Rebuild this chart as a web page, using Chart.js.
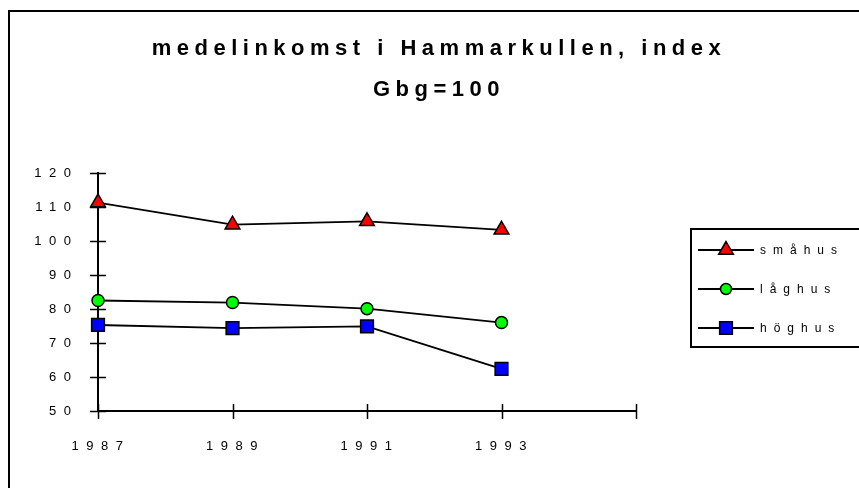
<!DOCTYPE html>
<html>
<head>
<meta charset="utf-8">
<title>medelinkomst i Hammarkullen</title>
<script src="https://cdn.jsdelivr.net/npm/chart.js@4.4.0/dist/chart.umd.min.js"></script>
<style>
    html, body { margin: 0; padding: 0; background: #fff; overflow: hidden; }
    #wrap { position: relative; width: 859px; height: 488px; }
    #frame { position: absolute; left: 8px; top: 10px; width: 1000px; height: 700px; border: 2px solid #000; box-sizing: border-box; }
    #myChart { position: absolute; left: 0; top: 0; }
</style>
</head>
<body>
<div id="wrap">
    <div id="frame"></div>
    <canvas id="myChart" width="859" height="488"></canvas>
</div>
<script>
// data
const years = ['1987', '1989', '1991', '1993', ''];
const seriesNames = ['småhus', 'låghus', 'höghus'];
const smahus = [111.3, 104.8, 105.8, 103.3];
const laghus = [82.5, 81.9, 80.1, 76.0];
const hoghus = [75.3, 74.4, 74.9, 62.4];
const yMin = 50;
const yMax = 120;
const yStep = 10;
const titleLines = ['medelinkomst i Hammarkullen, index', 'Gbg=100'];

const FONT = '"Liberation Sans", Arial, Helvetica, sans-serif';

// wide letter spacing like the original print
const spacing = {
    id: 'spacing',
    beforeUpdate(chart) { chart.ctx.letterSpacing = '7.5px'; },
    beforeDraw(chart) {
        chart.ctx.letterSpacing = '7.5px';
        const tb = chart.titleBlock;
        if (tb && !tb._spaced) {
            const orig = tb.draw.bind(tb);
            tb.draw = function () {
                const c = chart.ctx;
                const prev = c.letterSpacing;
                c.letterSpacing = '5.5px';
                orig();
                c.letterSpacing = prev;
            };
            tb._spaced = true;
        }
    }
};

// tick marks that cross the axes
const crossTicks = {
    id: 'crossTicks',
    beforeDatasetsDraw(chart) {
        const ctx = chart.ctx;
        const xs = chart.scales.x;
        const ys = chart.scales.y;
        ctx.save();
        ctx.strokeStyle = '#000';
        ctx.lineWidth = 1.5;
        ctx.beginPath();
        ys.ticks.forEach((t) => {
            const y = Math.round(ys.getPixelForValue(t.value)) + 0.5;
            ctx.moveTo(xs.left - 8, y);
            ctx.lineTo(xs.left + 8, y);
        });
        years.forEach((_, i) => {
            const x = Math.round(xs.getPixelForTick(i)) + 0.5;
            ctx.moveTo(x, ys.bottom - 7);
            ctx.lineTo(x, ys.bottom + 8);
        });
        ctx.stroke();
        ctx.restore();
    }
};

// boxed legend with line through the marker
const legendBox = {
    id: 'legendBox',
    afterDraw(chart) {
        const ctx = chart.ctx;
        const left = 691, top = 229, height = 118;
        ctx.save();
        ctx.strokeStyle = '#000';
        ctx.lineWidth = 2;
        ctx.strokeRect(left, top, 400, height);
        ctx.font = '12px ' + FONT;
        ctx.letterSpacing = '7px';
        ctx.textBaseline = 'middle';
        ctx.textAlign = 'left';
        chart.data.datasets.forEach((ds, i) => {
            const y = 250 + i * 39;
            ctx.strokeStyle = '#000';
            ctx.lineWidth = 1.8;
            ctx.beginPath();
            ctx.moveTo(left + 7, y);
            ctx.lineTo(left + 63, y);
            ctx.stroke();
            ctx.fillStyle = ds.pointBackgroundColor;
            ctx.strokeStyle = '#000';
            ctx.lineWidth = 1.5;
            Chart.helpers.drawPoint(ctx, {
                pointStyle: ds.pointStyle,
                radius: ds.pointStyle === 'circle' ? 5.5 : ds.pointRadius,
                borderWidth: 1.5
            }, left + 35, y);
            ctx.fillStyle = '#000';
            ctx.fillText(ds.label, left + 69, y + 1);
        });
        ctx.restore();
    }
};

const ctx = document.getElementById('myChart').getContext('2d');
const myChart = new Chart(ctx, {
    type: 'line',
    data: {
        labels: years,
        datasets: [{
            label: seriesNames[0],
            data: smahus,
            borderColor: '#000',
            borderWidth: 1.8,
            pointStyle: 'triangle',
            pointRadius: 8.5,
            pointBackgroundColor: '#ff0000',
            pointBorderColor: '#000',
            pointBorderWidth: 1.5
        }, {
            label: seriesNames[1],
            data: laghus,
            borderColor: '#000',
            borderWidth: 1.8,
            pointStyle: 'circle',
            pointRadius: 6,
            pointBackgroundColor: '#00ff00',
            pointBorderColor: '#000',
            pointBorderWidth: 1.5
        }, {
            label: seriesNames[2],
            data: hoghus,
            borderColor: '#000',
            borderWidth: 1.8,
            pointStyle: 'rect',
            pointRadius: 9,
            pointBackgroundColor: '#0000ff',
            pointBorderColor: '#000',
            pointBorderWidth: 1.5
        }]
    },
    options: {
        responsive: false,
        animation: false,
        layout: { padding: { left: 19, right: 0, top: 0, bottom: 0 } },
        plugins: {
            legend: { display: false },
            tooltip: { enabled: false },
            title: {
                display: true,
                text: titleLines,
                color: '#000',
                font: { family: FONT, size: 22, weight: 'bold', lineHeight: '41px' },
                padding: { top: 28, bottom: 63 }
            }
        },
        scales: {
            x: {
                offset: false,
                grid: { display: false, drawTicks: false },
                border: { display: true, color: '#000', width: 2 },
                ticks: {
                    color: '#000',
                    font: { family: FONT, size: 13 },
                    padding: 28,
                    labelOffset: 3,
                    autoSkip: false,
                    maxRotation: 0
                },
                afterFit(scale) { scale.height = 77; }
            },
            y: {
                min: yMin,
                max: yMax,
                grid: { display: false, drawTicks: false },
                border: { display: true, color: '#000', width: 2 },
                ticks: {
                    stepSize: yStep,
                    color: '#000',
                    font: { family: FONT, size: 13 },
                    padding: 19.5
                },
                afterFit(scale) { scale.width = 79; }
            },
            side: {
                position: 'right',
                display: true,
                grid: { display: false, drawTicks: false },
                border: { display: false },
                ticks: { display: false },
                afterFit(scale) { scale.width = 223; }
            }
        }
    },
    plugins: [spacing, crossTicks, legendBox]
});
</script>
</body>
</html>
